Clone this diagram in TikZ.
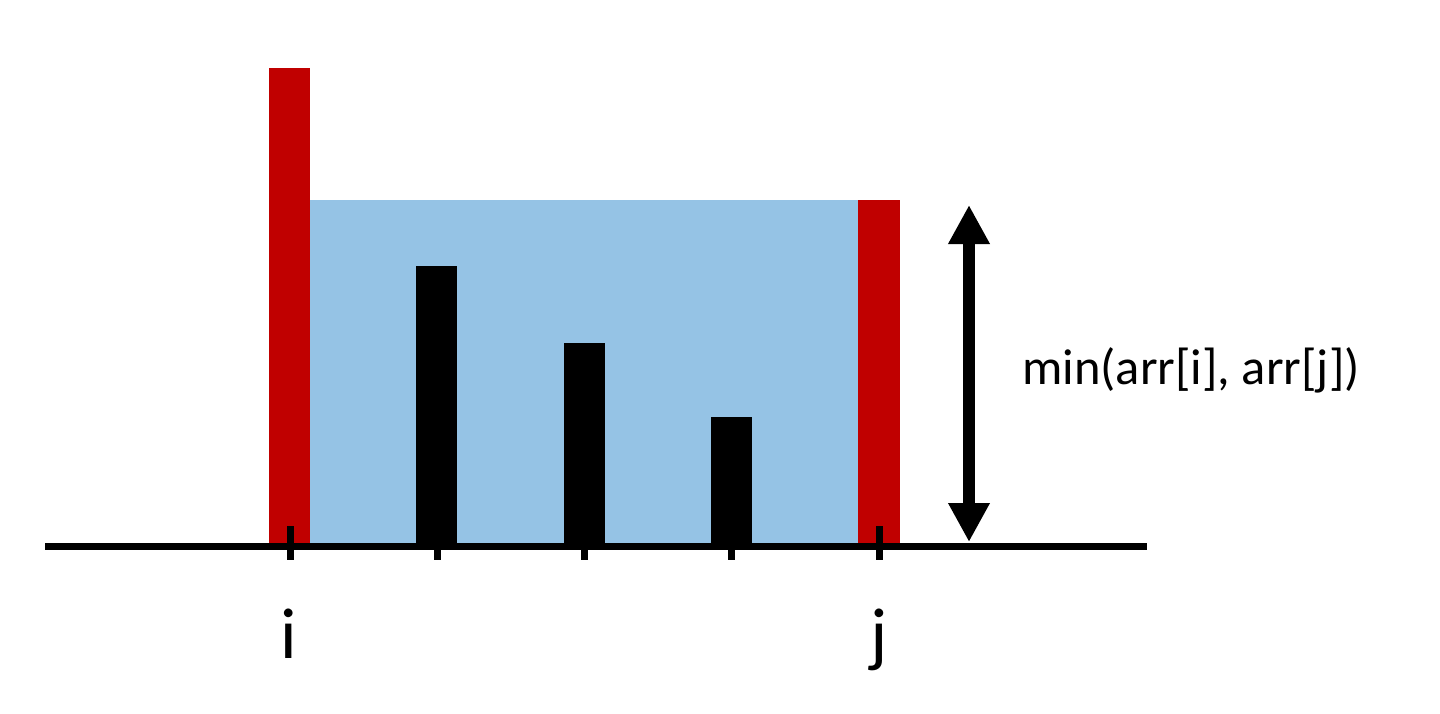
\documentclass[tikz,border=0pt]{standalone}
\usepackage{fontspec}
\setmainfont{Carlito}
\usetikzlibrary{arrows.meta}
\definecolor{barred}{HTML}{C00000}
\definecolor{water}{HTML}{95C3E5}
\begin{document}
\begin{tikzpicture}[x=1pt,y=-1pt,
  redbar/.style={fill=barred},
  blackbar/.style={fill=black},
  tick/.style={line width=7pt},
  axisline/.style={line width=7pt},
  lbl/.style={inner sep=0pt, font=\fontsize{72}{72}\selectfont},
  dimarrow/.style={line width=12.6pt, {Triangle[width=39pt,length=39pt]}-{Triangle[width=39pt,length=39pt]}}]
\useasboundingbox (0,0) rectangle (1440,713);
% water
\fill[water] (310,200) rectangle (858,546);
% bars
\fill[redbar] (269,68) rectangle (310,546);
\fill[redbar] (858,200) rectangle (900,546);
\fill[blackbar] (416,266) rectangle (457,546);
\fill[blackbar] (564,343) rectangle (605,546);
\fill[blackbar] (711,417) rectangle (752,546);
% axis
\coordinate (axl) at (45,546);
\coordinate (axr) at (1147,546);
\draw[axisline] (axl) -- (axr);
% ticks
\foreach \x in {290,437.5,584.5,731.5,879.5}{
  \draw[tick] (\x,526) -- (\x,560);
}
% labels
\node[lbl, anchor=base] (li) at (289,658) {i};
\node[lbl, anchor=base] (lj) at (879,658) {j};
% dimension arrow
\coordinate (atop) at (969,205);
\coordinate (abot) at (969,542);
\draw[dimarrow] (abot) -- (atop);
\node[inner sep=0pt, anchor=base west, font=\fontsize{50.5}{50.5}\selectfont] (mt) at (1022,384) {min(arr[i], arr[j])};
\end{tikzpicture}
\end{document}
